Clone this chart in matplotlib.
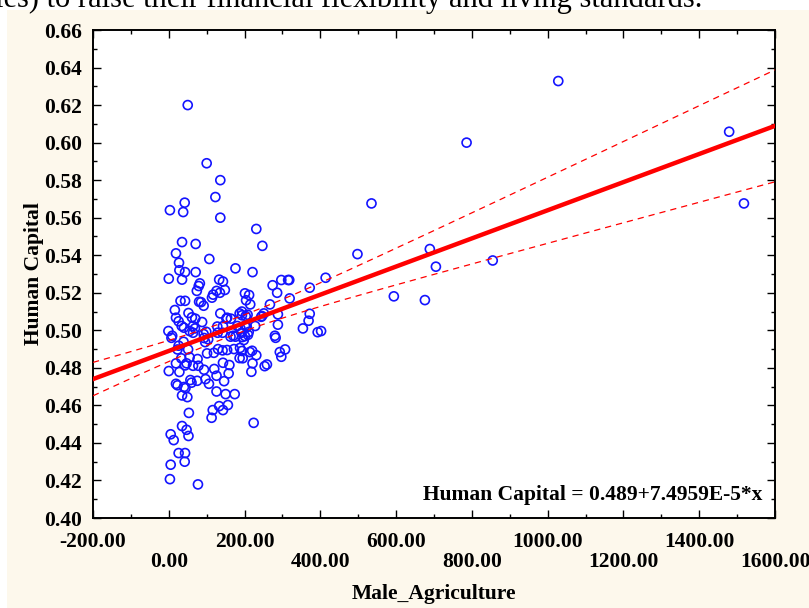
import numpy as np
import matplotlib
matplotlib.use("Agg")
import matplotlib.pyplot as plt
from matplotlib.patches import Rectangle
from matplotlib.ticker import MultipleLocator, FuncFormatter

male_agriculture = [
    50, 100, 136, 123, 42, 3, 38, 136,
    231, 247, 19, 35, 71, 27, 28, 43, 71, 107, 176, 221, 0, 35, 82, 79, 74,
    133, 143, 126, 135, 148, 117, 201, 212, 274, 286, 297, 315, 318, 319,
    372, 414, 498,
    31, 43, 16, 19, 80, 85, 92, 114, 215, 204, 267, 288, 251, 246, 193, 187,
    193, 203, 208, 136, 154, 164, 52, 61, 70, 26, 34, 40, 64, 69, 55, 64, 88,
    -1, 9, 7, 99, 92, 93, 104, 96, 128, 129, 143, 142, 152, 181, 189, 201,
    206, 163, 170, 176, 192, 194, 198, 201, 209, 211, 228, 244, 280, 282,
    288, 354, 369, 372, 393, 402,
    39, 26, 23, 51, 101, 119, 130, 142, 154, 172, 188, 193, 214, 220, 231,
    293, 307, 297, 253, 259, 221, 218, 33, 55, 64, 78, 76, 19, 47, 43, 0, 28,
    93, 120, 143, 160, 195, 187, 97, 106, 126, 146, 158, 19, 23, 40, 60, 57,
    75, 35, 49, 126, 150, 174, 44,
    53, 133, 156, 143, 116, 113, 224, 35, 47, 52, 5, 13, 26, 43, 42, 5, 3, 77,
    1028, 786, 535, 689, 705, 594, 676, 855, 1479, 1518,
]
human_capital = [
    0.620, 0.589, 0.580, 0.571, 0.568, 0.564, 0.563, 0.560,
    0.554, 0.545, 0.541, 0.547, 0.546, 0.536, 0.532, 0.531, 0.531, 0.538,
    0.533, 0.531, 0.5275, 0.527, 0.525, 0.5236, 0.521,
    0.527, 0.526, 0.521, 0.520, 0.5215, 0.519, 0.5197, 0.5188, 0.524, 0.520,
    0.5268, 0.5268, 0.5268, 0.517, 0.5227, 0.528, 0.5406,
    0.5157, 0.5157, 0.5108, 0.5067, 0.5152, 0.515, 0.5131, 0.5174, 0.5138,
    0.516, 0.5138, 0.5085, 0.509, 0.5076, 0.510, 0.509,
    0.508, 0.5076, 0.5083, 0.509, 0.5067, 0.5062, 0.5092, 0.5069, 0.5062,
    0.5048, 0.5023, 0.5014, 0.5023, 0.501, 0.4996, 0.4987, 0.5044,
    0.4996, 0.4971, 0.496, 0.4992, 0.498, 0.4959, 0.4952, 0.4937, 0.502,
    0.4987, 0.5022, 0.4987, 0.5062, 0.5023, 0.501, 0.5024,
    0.5017, 0.4966, 0.4971, 0.4966, 0.4987, 0.4964, 0.4948, 0.4969, 0.4976,
    0.4991, 0.5023, 0.5072, 0.4971, 0.496,
    0.503, 0.501, 0.5051, 0.5088, 0.499, 0.4996,
    0.4939, 0.4918, 0.4898, 0.4898, 0.4877, 0.488, 0.490, 0.4893, 0.4895,
    0.490, 0.4906, 0.489, 0.4884, 0.4891, 0.4867,
    0.4884, 0.4898, 0.4859, 0.4809, 0.4818, 0.4824, 0.4779, 0.4851, 0.4856,
    0.4811, 0.4811, 0.4847, 0.4824, 0.4824, 0.4813, 0.4783, 0.4778,
    0.4790, 0.4794, 0.4827, 0.4815, 0.4851, 0.4852, 0.474, 0.4715, 0.4758,
    0.4729, 0.477, 0.4715, 0.4707, 0.4698, 0.4721, 0.4735,
    0.4731, 0.4653, 0.4644, 0.4674, 0.466, 0.466, 0.4692,
    0.456, 0.4596, 0.4602, 0.4575, 0.4575, 0.4534, 0.4507, 0.449, 0.447,
    0.4437, 0.4446, 0.4415, 0.4346, 0.4346, 0.430, 0.4284, 0.4207, 0.4179,
    0.6328, 0.600, 0.5676, 0.5433, 0.5339, 0.5181, 0.5161, 0.5372, 0.6058,
    0.5676,
]

intercept = 0.489
slope = 7.4959e-5
equation = "Human Capital = 0.489+7.4959E-5*x"

x_min, x_max = -200, 1600
y_min, y_max = 0.40, 0.66

plt.rcParams['font.family'] = ['Liberation Serif', 'DejaVu Serif']
plt.rcParams['font.weight'] = 'bold'

fig = plt.figure(figsize=(8.09, 6.08), dpi=100, facecolor='white')
# beige panel behind the chart (screenshot of a document page)
fig.patches.append(Rectangle((7 / 809, 0), 1, 1 - 10 / 608, transform=fig.transFigure,
                             facecolor='#fdf8ec', edgecolor='none', zorder=-10))
fig.text(-0.006, 1 - 7 / 608, "ies) to raise their financial flexibility and living standards.",
         fontsize=22, fontweight='normal', va='baseline', ha='left', color='black', zorder=5)

ax = fig.add_axes([93 / 809, 1 - 518 / 608, 682 / 809, 488 / 608])
ax.set_zorder(2)
ax.set_facecolor('white')

x = np.array(male_agriculture, dtype=float)
y = np.array(human_capital, dtype=float)

# regression line and 95% confidence band
xs = np.linspace(x_min, x_max, 200)
fit = intercept + slope * xs
resid = y - (intercept + slope * x)
n = len(x)
s = np.sqrt(np.sum(resid ** 2) / (n - 2))
sxx = np.sum((x - x.mean()) ** 2)
half = 1.97 * s * np.sqrt(1 / n + (xs - x.mean()) ** 2 / sxx)

ax.scatter(x, y, s=42, facecolors='none', edgecolors='#1414ff', linewidths=1.2, zorder=3)
ax.plot(xs, fit, color='#ff0000', lw=3.2, zorder=4)
ax.plot(xs, fit + half, color='#ff0000', lw=0.9, ls=(0, (5, 4)), zorder=4)
ax.plot(xs, fit - half, color='#ff0000', lw=0.9, ls=(0, (5, 4)), zorder=4)

ax.set_xlim(x_min, x_max)
ax.set_ylim(y_min, y_max)

ax.xaxis.set_major_locator(MultipleLocator(200))
ax.xaxis.set_minor_locator(MultipleLocator(100))
ax.yaxis.set_major_locator(MultipleLocator(0.02))
ax.yaxis.set_minor_locator(MultipleLocator(0.01))


def stagger(v, pos):
    i = int(round((v - x_min) / 200))
    lab = f"{v:.2f}"
    return lab if i % 2 == 0 else "\n" + lab


ax.xaxis.set_major_formatter(FuncFormatter(stagger))
ax.yaxis.set_major_formatter(FuncFormatter(lambda v, p: f"{v:.2f}"))

ax.tick_params(which='both', direction='in', top=True, right=True, width=1, color='black')
ax.tick_params(which='major', length=6, labelsize=15.5)
ax.tick_params(axis='x', which='major', pad=10)
ax.tick_params(axis='y', which='major', pad=8)
ax.tick_params(which='minor', length=3)
for lbl in ax.get_xticklabels():
    lbl.set_linespacing(1.0)
for sp in ax.spines.values():
    sp.set_linewidth(1.4)

ax.set_xlabel("Male_Agriculture", fontsize=15.5, fontweight='bold', labelpad=9)
ax.set_ylabel("Human Capital", fontsize=15.5, fontweight='bold', labelpad=0)

ax.text(0.981, 0.047, equation, transform=ax.transAxes, ha='right', va='center',
        fontsize=15.5, fontweight='bold')

fig.savefig("out.png", dpi=100, facecolor=fig.get_facecolor())
